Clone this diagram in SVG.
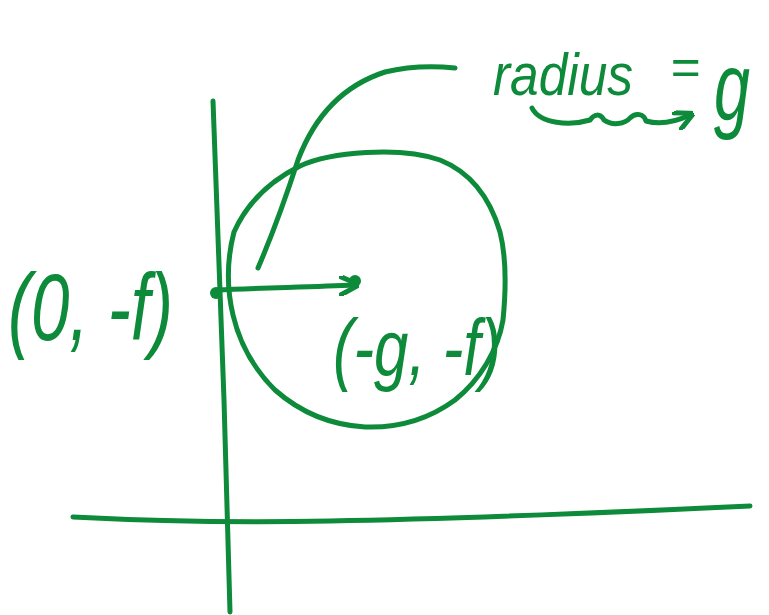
<svg xmlns="http://www.w3.org/2000/svg" width="769" height="615" viewBox="0 0 769 615">
<style>
.ink{fill:none;stroke:#0d8a3a;stroke-width:5;stroke-linecap:round;stroke-linejoin:round}
.lbl{fill:#0d8a3a;font-family:"Liberation Sans","DejaVu Sans",sans-serif;font-style:italic}
</style>
<defs>
<marker id="ah" viewBox="0 0 10 10" refX="8" refY="5" markerWidth="4" markerHeight="4" orient="auto">
<path d="M0,0 L10,5 L0,10" fill="none" stroke="#0d8a3a" stroke-width="2.5" stroke-linecap="round"/>
</marker>
</defs>
<rect width="769" height="615" fill="#ffffff"/>
<g id="axes">
<path class="ink" d="M213,101 C216,200 220,300 224,400 C226,480 228,560 230,612"/>
<path class="ink" d="M73,517 C150,521 230,523 330,521 C450,519 600,513 750,506"/>
</g>
<g id="circle">
<path class="ink" d="M300,166 C330,152 400,146 440,160 C470,172 490,198 500,232 C507,260 506,290 503,320 C498,350 480,380 455,400 C425,422 395,428 365,427 C330,425 300,412 275,390 C255,370 240,345 233,315 C226,285 228,255 234,232 C246,205 268,182 300,166 Z"/>
</g>
<g id="connectors">
<path class="ink" d="M217,290 C260,288 310,287 355,285" marker-end="url(#ah)"/>
<path class="ink" d="M258,268 C270,240 285,200 298,160 C315,115 345,85 385,72 C410,66 435,66 455,68"/>
<path class="ink" d="M532,108 C540,124 570,126 590,120 C594,114 600,113 604,120 C612,126 625,124 630,118 C636,112 644,114 646,121 C660,125 675,122 690,115" marker-end="url(#ah)"/>
</g>
<g id="points">
<circle cx="216" cy="293" r="6" fill="#0d8a3a"/>
<circle cx="355" cy="281" r="6" fill="#0d8a3a"/>
</g>
<g id="label-radius">
<text class="lbl" x="493" y="95" font-size="60" textLength="140" lengthAdjust="spacingAndGlyphs">radius</text>
<text class="lbl" x="670" y="84" font-size="50" textLength="30" lengthAdjust="spacingAndGlyphs">=</text>
<text class="lbl" x="714" y="120" font-size="96" textLength="36" lengthAdjust="spacingAndGlyphs">g</text>
</g>
<g id="label-p1">
<text class="lbl" x="8" y="340" font-size="95" textLength="165" lengthAdjust="spacingAndGlyphs">(0, -f)</text>
</g>
<g id="label-p2">
<text class="lbl" x="333" y="375" font-size="80" textLength="168" lengthAdjust="spacingAndGlyphs">(-g, -f)</text>
</g>
</svg>
